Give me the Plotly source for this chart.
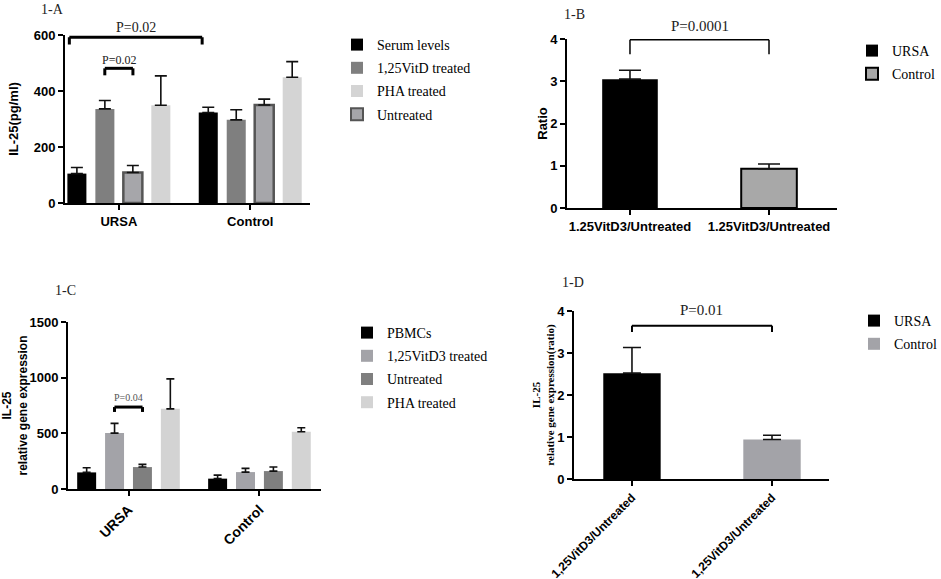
import plotly.graph_objects as go

W, H = 941, 579

groups = ["URSA", "Control"]

# 1-A : IL-25 (pg/ml), mean and upper error
a_serum = [105, 323]
a_serum_err = [22, 19]
a_vitd = [336, 297]
a_vitd_err = [30, 36]
a_untreated = [109, 350]
a_untreated_err = [25, 21]
a_pha = [349, 449]
a_pha_err = [105, 56]

# 1-B : ratio 1.25VitD3/Untreated
b_labels = ["1.25VitD3/Untreated", "1.25VitD3/Untreated"]
b_ursa = [3.05]
b_ursa_err = [0.21]
b_control = [0.93]
b_control_err = [0.11]

# 1-C : IL-25 relative gene expression
c_pbmc = [149, 93]
c_pbmc_err = [42, 32]
c_vitd = [502, 152]
c_vitd_err = [87, 33]
c_untreated = [197, 161]
c_untreated_err = [24, 36]
c_pha = [720, 514]
c_pha_err = [269, 36]

# 1-D : relative gene expression ratio
d_labels = ["1,25VitD3/Untreated", "1,25VitD3/Untreated"]
d_ursa = [2.52]
d_ursa_err = [0.61]
d_control = [0.94]
d_control_err = [0.10]

SERIF = "Liberation Serif, Times New Roman, serif"
SANS = "Liberation Sans, Arial, sans-serif"


def px_x(p):
    return p / W


def px_y(p):
    return 1 - p / H


fig = go.Figure()


def bar(x, y, err, name, color, xa, ya, legend, cap, line=None, rank=1000, **kw):
    fig.add_trace(go.Bar(
        x=x, y=y, name=name, xaxis=xa, yaxis=ya, legend=legend,
        legendgroup=legend + name, legendrank=rank,
        marker=dict(color=color, line=line or dict(width=0)),
        error_y=dict(type="data", symmetric=False, array=err, arrayminus=[0] * len(err),
                     color="#111", thickness=1.6, width=cap),
        **kw))


# ---- panel A
bar(groups, a_serum, a_serum_err, "Serum levels", "#000000", "x", "y", "legend", 6, rank=1)
bar(groups, a_vitd, a_vitd_err, "1,25VitD treated", "#7f7f7f", "x", "y", "legend", 6, rank=2)
bar(groups, a_untreated, a_untreated_err, "Untreated", "#a6a6aa", "x", "y", "legend", 6,
    line=dict(color="#555555", width=2.5), rank=4)
bar(groups, a_pha, a_pha_err, "PHA treated", "#d4d4d4", "x", "y", "legend", 6, rank=3)

# ---- panel B
bar([0], b_ursa, b_ursa_err, "URSA", "#000000", "x2", "y2", "legend2", 11,
    width=0.4, offsetgroup="b")
bar([1], b_control, b_control_err, "Control", "#a8a8a8", "x2", "y2", "legend2", 11,
    line=dict(color="#000", width=2), width=0.4, offsetgroup="b")

# ---- panel C
bar(groups, c_pbmc, c_pbmc_err, "PBMCs", "#000000", "x3", "y3", "legend3", 4)
bar(groups, c_vitd, c_vitd_err, "1,25VitD3 treated", "#a3a3a8", "x3", "y3", "legend3", 4)
bar(groups, c_untreated, c_untreated_err, "Untreated", "#7f7f7f", "x3", "y3", "legend3", 4)
bar(groups, c_pha, c_pha_err, "PHA treated", "#d3d3d3", "x3", "y3", "legend3", 4)

# ---- panel D
bar([0], d_ursa, d_ursa_err, "URSA", "#000000", "x4", "y4", "legend4", 9,
    width=0.41, offsetgroup="d")
bar([1], d_control, d_control_err, "Control", "#a3a3a8", "x4", "y4", "legend4", 9,
    width=0.41, offsetgroup="d")


def tf(size, family=SANS):
    return dict(family=family, size=size, color="#000", weight="bold")


axis_common = dict(showline=True, linecolor="#000", linewidth=2, ticks="outside",
                   ticklen=5, tickwidth=2, tickcolor="#000", showgrid=False, zeroline=False,
                   automargin=False, tickfont=tf(13))

ranges = {
    "y": [0, 600], "y2": [0, 4], "y3": [0, 1500], "y4": [0, 4],
}

fig.update_layout(
    width=W, height=H, margin=dict(l=0, r=0, t=0, b=0, autoexpand=False),
    paper_bgcolor="white", plot_bgcolor="white",
    font=dict(color="#000", family=SANS),
    barmode="group", bargap=0.148, bargroupgap=0.32,
    showlegend=True,
    xaxis=dict(axis_common, domain=[px_x(65), px_x(310)], range=[-0.41, 1.455], anchor="y"),
    yaxis=dict(axis_common, domain=[px_y(203), px_y(35)], range=ranges["y"],
               tickvals=[0, 200, 400, 600], anchor="x",
               title=dict(text="IL-25(pg/ml)", font=tf(13), standoff=12)),
    xaxis2=dict(axis_common, domain=[px_x(567), px_x(837)], range=[-0.453, 1.489],
                anchor="y2", tickvals=[0, 1], ticktext=b_labels),
    yaxis2=dict(axis_common, domain=[px_y(208), px_y(39)], range=ranges["y2"],
                tickvals=[0, 1, 2, 3, 4], anchor="x2",
                title=dict(text="Ratio", font=tf(13), standoff=0)),
    xaxis3=dict(axis_common, domain=[px_x(68), px_x(321)], range=[-0.462, 1.47],
                anchor="y3", tickangle=-45, tickfont=tf(14)),
    yaxis3=dict(axis_common, domain=[px_y(489), px_y(322)], range=ranges["y3"],
                tickvals=[0, 500, 1000, 1500], anchor="x3",
                title=dict(text="IL-25<br>relative gene expression", font=tf(12), standoff=20)),
    xaxis4=dict(axis_common, domain=[px_x(574), px_x(829)], range=[-0.414, 1.407],
                anchor="y4", tickvals=[0, 1], ticktext=d_labels, tickangle=-45,
                tickfont=tf(12)),
    yaxis4=dict(axis_common, domain=[px_y(479), px_y(311)], range=ranges["y4"],
                tickvals=[0, 1, 2, 3, 4], anchor="x4",
                title=dict(text="IL-25<br>relative gene expression(ratio)",
                           font=tf(11, SERIF), standoff=0)),
)

leg_common = dict(font=dict(family=SERIF, size=14, color="#000"), bgcolor="rgba(0,0,0,0)",
                  xanchor="left", yanchor="top", itemsizing="constant",
                  traceorder="grouped", tracegroupgap=2)
fig.update_layout(
    legend=dict(leg_common, x=px_x(337), y=px_y(29)),
    legend2=dict(leg_common, x=px_x(852), y=px_y(35)),
    legend3=dict(leg_common, x=px_x(347), y=px_y(317)),
    legend4=dict(leg_common, x=px_x(854), y=px_y(305)),
)


def dom(ya, v):
    lo, hi = ranges[ya]
    return (v - lo) / (hi - lo)


def bracket(xa, ya, x0, x1, top, leg, width):
    yt = dom(ya, top)
    yl = dom(ya, leg)
    ln = dict(color="#000", width=width)
    yref = ya + " domain"
    fig.add_shape(type="line", xref=xa, yref=yref, x0=x0, x1=x1, y0=yt, y1=yt, line=ln)
    fig.add_shape(type="line", xref=xa, yref=yref, x0=x0, x1=x0, y0=yt, y1=yl, line=ln)
    fig.add_shape(type="line", xref=xa, yref=yref, x0=x1, x1=x1, y0=yt, y1=yl, line=ln)


def ptext(xa, ya, x, y, text, size=14, color="#222"):
    fig.add_annotation(xref=xa, yref=ya + " domain", x=x, y=dom(ya, y), text=text,
                       xanchor="center", yanchor="middle", showarrow=False,
                       font=dict(family=SERIF, size=size, color=color))


bracket("x", "y", -0.377, 0.634, 592, 566, 3)
ptext("x", "y", 0.13, 628, "P=0.02")
bracket("x", "y", -0.107, 0.107, 481, 456, 3)
ptext("x", "y", 0.0, 512, "P=0.02", size=12)

bracket("x2", "y2", 0, 1, 3.98, 3.64, 1.5)
ptext("x2", "y2", 0.5, 4.3, "P=0.0001", size=15)

bracket("x3", "y3", -0.107, 0.107, 736, 692, 3)
ptext("x3", "y3", 0.0, 818, "P=0.04", size=10, color="#555")

bracket("x4", "y4", 0, 1, 3.65, 3.5, 2)
ptext("x4", "y4", 0.5, 4.02, "P=0.01", size=15)

for label, x, y in [("1-A", 52, 9), ("1-B", 574, 15), ("1-C", 65, 290), ("1-D", 573, 282)]:
    fig.add_annotation(xref="paper", yref="paper", x=px_x(x), y=px_y(y), text=label,
                       xanchor="center", yanchor="middle", showarrow=False,
                       font=dict(family=SERIF, size=14, color="#222"))

# the page body has a default 8px margin; remove it so the figure fills the window
fig.write_html("out.html", config={"displayModeBar": False},
               post_script="document.body.style.margin='0';")
